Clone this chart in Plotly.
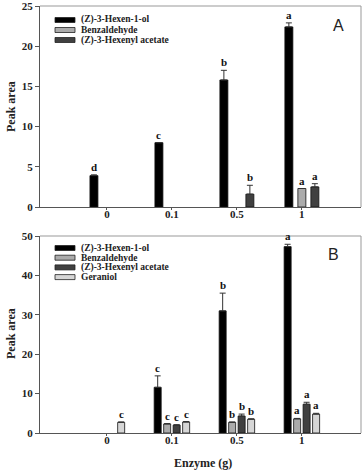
import plotly.graph_objects as go

# ---------------- data ----------------
categories = ["0", "0.1", "0.5", "1"]

# Panel A
hexenol_A = [3.9, 8.0, 15.8, 22.4]
hexenol_A_err = [0.1, 0.0, 1.2, 0.5]
hexenol_A_lbl = ["d", "c", "b", "a"]
benz_A = [None, None, None, 2.3]
benz_A_err = [0, 0, 0, 0.0]
benz_A_lbl = ["", "", "", "a"]
acet_A = [None, None, 1.6, 2.5]
acet_A_err = [0, 0, 1.1, 0.4]
acet_A_lbl = ["", "", "b", "a"]

# Panel B
hexenol_B = [None, 11.6, 31.0, 47.3]
hexenol_B_err = [0, 2.9, 4.5, 0.6]
hexenol_B_lbl = ["", "c", "b", "a"]
benz_B = [None, 2.3, 2.7, 3.6]
benz_B_err = [0, 0.1, 0.1, 0.1]
benz_B_lbl = ["", "c", "b", "a"]
acet_B = [None, 2.0, 4.3, 7.3]
acet_B_err = [0, 0.1, 0.5, 0.5]
acet_B_lbl = ["", "c", "b", "a"]
ger_B = [2.7, 2.8, 3.5, 4.8]
ger_B_err = [0.1, 0.1, 0.1, 0.2]
ger_B_lbl = ["c", "c", "b", "a"]

names = ["(Z)-3-Hexen-1-ol", "Benzaldehyde", "(Z)-3-Hexenyl acetate", "Geraniol"]
colors = ["#000000", "#ababab", "#404040", "#d6d6d6"]

W, H = 362, 470
ML, MR = 40, 1
SERIF = "Liberation Serif"

panelA = [(hexenol_A, hexenol_A_err, hexenol_A_lbl),
          (benz_A, benz_A_err, benz_A_lbl),
          (acet_A, acet_A_err, acet_A_lbl)]
panelB = [(hexenol_B, hexenol_B_err, hexenol_B_lbl),
          (benz_B, benz_B_err, benz_B_lbl),
          (acet_B, acet_B_err, acet_B_lbl),
          (ger_B, ger_B_err, ger_B_lbl)]

fig = go.Figure()
annotations = []
shapes = []


def add_panel(series, xa, ya, slot, bw):
    n = len(series)
    for k, (vals, errs, lbls) in enumerate(series):
        center = (k - (n - 1) / 2) * slot
        fig.add_trace(go.Bar(
            x=categories, y=vals, xaxis=xa, yaxis=ya,
            width=[bw] * len(categories), offset=center - bw / 2,
            marker=dict(color=colors[k], line=dict(color="#111", width=0.8)),
            error_y=dict(type="data", array=errs, arrayminus=[0] * len(errs),
                         symmetric=False, color="#333", thickness=1, width=3),
            showlegend=False, name=names[k]))
        for i, (v, e, t) in enumerate(zip(vals, errs, lbls)):
            if v is None or not t:
                continue
            annotations.append(dict(
                x=i + center, y=v + (e or 0), xref=xa, yref=ya, text=t,
                showarrow=False, xanchor="center", yanchor="bottom", yshift=0,
                font=dict(family=SERIF, size=11, color="#111", weight="bold")))


add_panel(panelA, "x", "y", 0.2, 0.123)
add_panel(panelB, "x2", "y2", 0.146, 0.108)


def py(p):
    return 1 - p / H


def px(p):
    return (p - ML) / (W - ML - MR)


# manual legends
def legend(n, y0, dy):
    for k in range(n):
        yc = y0 + k * dy
        shapes.append(dict(type="rect", xref="paper", yref="paper",
                           x0=px(55), x1=px(75), y0=py(yc + 2.5), y1=py(yc - 2.5),
                           fillcolor=colors[k], line=dict(color="#222", width=0.8)))
        annotations.append(dict(x=px(79), y=py(yc), xref="paper", yref="paper",
                                text=names[k], showarrow=False, xanchor="left",
                                yanchor="middle",
                                font=dict(family=SERIF, size=9.5, color="#222",
                                          weight="bold")))


legend(3, 20, 10)
legend(4, 248, 9.7)

# panel labels
annotations.append(dict(x=px(338), y=py(26), xref="paper", yref="paper", text="A",
                        showarrow=False, xanchor="center", yanchor="middle",
                        font=dict(family="Liberation Sans", size=16, color="#222")))
annotations.append(dict(x=px(333), y=py(255), xref="paper", yref="paper", text="B",
                        showarrow=False, xanchor="center", yanchor="middle",
                        font=dict(family="Liberation Sans", size=16, color="#222")))

# axis titles
for yc in (107, 334):
    annotations.append(dict(x=px(11), y=py(yc), xref="paper", yref="paper",
                            text="Peak area", textangle=-90, showarrow=False,
                            xanchor="center", yanchor="middle",
                            font=dict(family=SERIF, size=12, color="#222",
                                      weight="bold")))
annotations.append(dict(x=px(203), y=py(463), xref="paper", yref="paper",
                        text="Enzyme (g)", showarrow=False,
                        xanchor="center", yanchor="middle",
                        font=dict(family=SERIF, size=12, color="#222", weight="bold")))

# top/right frame lines
for xa, ya in (("x", "y"), ("x2", "y2")):
    shapes.append(dict(type="line", xref=xa + " domain", yref=ya + " domain",
                       x0=0, x1=1, y0=1, y1=1, line=dict(color="#999", width=1)))
    shapes.append(dict(type="line", xref=xa + " domain", yref=ya + " domain",
                       x0=1, x1=1, y0=0, y1=1, line=dict(color="#999", width=1)))

tickfont = dict(family=SERIF, size=11, color="#222", weight="bold")
xcommon = dict(type="category", categoryorder="array", categoryarray=categories,
               range=[-1.03, 3.91], showline=True, linecolor="#555", linewidth=1,
               ticks="outside", ticklen=2, tickcolor="#555", showgrid=False,
               zeroline=False, tickfont=tickfont, fixedrange=True, automargin=False,
               ticklabelstandoff=-5, ticklabeloverflow="allow")
ycommon = dict(showline=True, linecolor="#555", linewidth=1, ticks="outside",
               ticklen=4, tickcolor="#555", showgrid=False, zeroline=False,
               tickfont=tickfont, automargin=False, ticklabeloverflow="allow")

fig.update_layout(
    width=W, height=H, margin=dict(l=ML, r=MR, t=0, b=0, autoexpand=False),
    paper_bgcolor="white", plot_bgcolor="white", barmode="overlay",
    xaxis=dict(**xcommon, domain=[0, 1], anchor="y"),
    yaxis=dict(**ycommon, domain=[1 - 207 / H, 1 - 6 / H], range=[0, 25], dtick=5,
               anchor="x"),
    xaxis2=dict(**xcommon, domain=[0, 1], anchor="y2"),
    yaxis2=dict(**ycommon, domain=[1 - 433 / H, 1 - 236 / H], range=[0, 50], dtick=10,
                anchor="x2"),
    annotations=annotations, shapes=shapes,
)

fig.write_html("out.html")
